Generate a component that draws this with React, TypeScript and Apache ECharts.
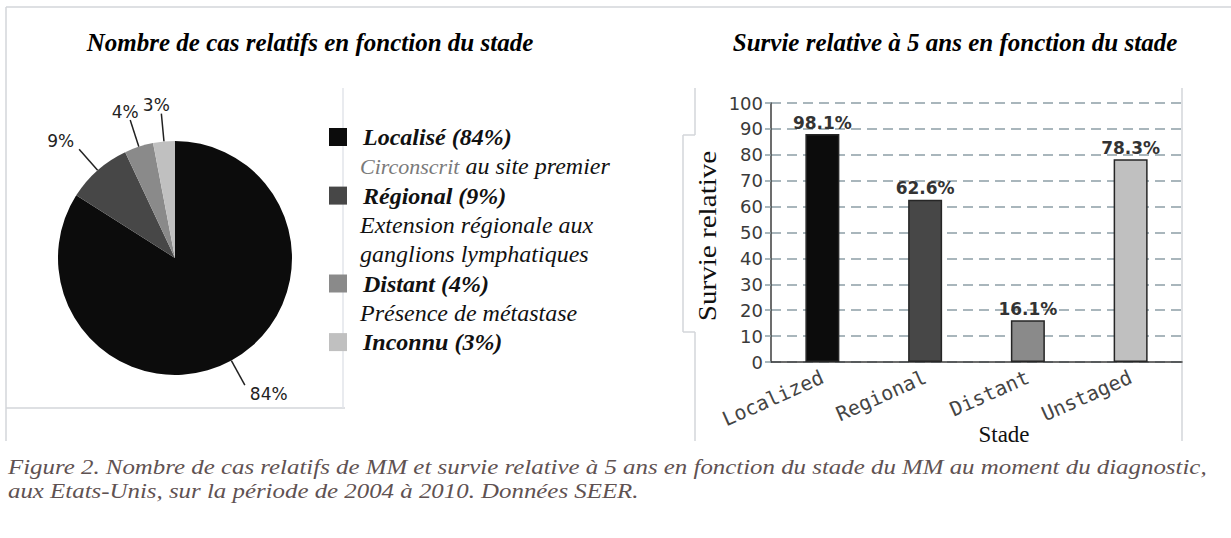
import React, { useEffect, useRef } from 'react';
import * as echarts from 'echarts';

// ---------- data ----------
const pieCategories = ['Localisé', 'Régional', 'Distant', 'Inconnu'];
const pieValues = [84, 9, 4, 3];
const pieDescriptions: string[][] = [
  ['{g|Circonscrit} {n|au site premier}'],
  ['Extension régionale aux', 'ganglions lymphatiques'],
  ['Présence de métastase'],
  [],
];
const barCategories = ['Localized', 'Regional', 'Distant', 'Unstaged'];
const barValues = [88, 62.6, 16.1, 78.3];
const barLabels = ['98.1%', '62.6%', '16.1%', '78.3%'];
const leftTitle = 'Nombre de cas relatifs en fonction du stade';
const rightTitle = 'Survie relative à 5 ans en fonction du stade';
const yAxisTitle = 'Survie relative';
const xAxisTitle = 'Stade';
const captionLines = [
  'Figure 2. Nombre de cas relatifs de MM et survie relative à 5 ans en fonction du stade du MM au moment du diagnostic,',
  'aux Etats-Unis, sur la période de 2004 à 2010. Données SEER.',
];

// ---------- styles ----------
const grays = ['#0c0c0c', '#474747', '#8a8a8a', '#c0c0c0'];
const serif = '"Liberation Serif", "Times New Roman", serif';
const frameColor = '#d3d6da';

// per-slice label alignment tweaks (style only)
const pieLabelTweaks: any[] = [
  { align: 'left', verticalAlign: 'top' },
  { align: 'right', verticalAlign: 'bottom' },
  { align: 'center', verticalAlign: 'bottom' },
  { align: 'center', verticalAlign: 'bottom' },
];

function buildLegend(): any[] {
  const els: any[] = [];
  const y0 = 137;
  const step = 29.3;
  let line = 0;
  pieCategories.forEach((name, i) => {
    const y = y0 + line * step;
    els.push({
      type: 'rect',
      shape: { x: 329, y: y - 9, width: 18, height: 18 },
      style: { fill: grays[i] },
    });
    els.push({
      type: 'text',
      x: 363,
      y,
      style: {
        text: `${name} (${pieValues[i]}%)`,
        font: `italic bold 24px ${serif}`,
        fill: '#111',
        verticalAlign: 'middle',
      },
    });
    line++;
    pieDescriptions[i].forEach((d) => {
      const yy = y0 + line * step;
      els.push({
        type: 'text',
        x: 360,
        y: yy,
        style: {
          text: d,
          font: `italic 24px ${serif}`,
          fill: '#111',
          verticalAlign: 'middle',
          rich: {
            g: { font: `italic 22px ${serif}`, fill: '#7a7a7a' },
            n: { font: `italic 24px ${serif}`, fill: '#111' },
          },
        },
      });
      line++;
    });
  });
  return els;
}

function frameLine(x1: number, y1: number, x2: number, y2: number, color = frameColor) {
  return {
    type: 'line',
    shape: { x1, y1, x2, y2 },
    style: { stroke: color, lineWidth: 1.5 },
  };
}

function buildOption(): any {
  return {
    animation: false,
    backgroundColor: '#ffffff',
    grid: { left: 771, top: 103, width: 411, height: 259, containLabel: false },
    xAxis: {
      type: 'category',
      data: barCategories,
      axisLine: { show: true, lineStyle: { color: '#3c3c3c', width: 1.5 } },
      axisTick: { show: false },
      axisLabel: {
        rotate: 24,
        margin: 14,
        fontFamily: '"DejaVu Sans Mono", monospace',
        fontSize: 20,
        color: '#444',
        interval: 0,
      },
    },
    yAxis: {
      type: 'value',
      min: 0,
      max: 100,
      interval: 10,
      axisLine: { show: true, lineStyle: { color: '#3c3c3c', width: 1.5 } },
      axisTick: { show: true, length: 6, lineStyle: { color: '#8d9fa6', width: 1.5 } },
      axisLabel: {
        fontFamily: '"DejaVu Sans", sans-serif',
        fontSize: 18,
        color: '#3a3a3a',
        margin: 8,
      },
      splitLine: {
        show: true,
        lineStyle: { color: '#8d9fa6', width: 1.5, type: [10, 6] },
      },
    },
    series: [
      {
        type: 'bar',
        data: barValues.map((v, i) => ({ value: v, itemStyle: { color: grays[i] } })),
        barWidth: 34,
        itemStyle: { borderColor: '#262626', borderWidth: 1.5 },
        label: {
          show: true,
          position: 'top',
          distance: 3,
          formatter: (p: any) => barLabels[p.dataIndex],
          fontFamily: '"DejaVu Sans", sans-serif',
          fontWeight: 'bold',
          fontSize: 17,
          color: '#333',
        },
      },
      {
        type: 'pie',
        center: [175, 258],
        radius: 117,
        startAngle: 90,
        clockwise: true,
        avoidLabelOverlap: false,
        data: pieCategories.map((n, i) => ({
          name: n,
          value: pieValues[i],
          itemStyle: { color: grays[i] },
        })),
        itemStyle: { borderWidth: 0 },
        label: {
          show: true,
          position: 'outside',
          formatter: '{c}%',
          fontFamily: '"DejaVu Sans", sans-serif',
          fontSize: 17,
          color: '#222',
        },
        labelLine: {
          show: true,
          length: 28,
          length2: 0,
          lineStyle: { color: '#222', width: 1.5 },
        },
        labelLayout: (params: any) => pieLabelTweaks[params.dataIndex],
        emphasis: { disabled: true },
      },
    ],
    graphic: [
      // frame
      frameLine(6, 7, 1231, 7),
      frameLine(6, 7, 6, 441),
      frameLine(6, 408, 345, 408),
      frameLine(343, 88, 343, 408, '#e2e5ea'),
      frameLine(695, 88, 695, 135),
      frameLine(695, 135, 683, 135),
      frameLine(683, 135, 683, 332),
      frameLine(683, 332, 695, 332),
      frameLine(695, 332, 695, 441),
      frameLine(1182, 88, 1182, 441),
      // titles
      {
        type: 'text',
        x: 310,
        y: 42,
        style: {
          text: leftTitle,
          font: `italic bold 25px ${serif}`,
          fill: '#000',
          align: 'center',
          verticalAlign: 'middle',
        },
      },
      {
        type: 'text',
        x: 955,
        y: 42,
        style: {
          text: rightTitle,
          font: `italic bold 25px ${serif}`,
          fill: '#000',
          align: 'center',
          verticalAlign: 'middle',
        },
      },
      // axis titles
      {
        type: 'text',
        x: 707,
        y: 236,
        rotation: Math.PI / 2,
        scaleX: 1.12,
        style: {
          text: yAxisTitle,
          font: `26px ${serif}`,
          fill: '#111',
          align: 'center',
          verticalAlign: 'middle',
        },
      },
      {
        type: 'text',
        x: 1004,
        y: 434,
        style: {
          text: xAxisTitle,
          font: `23px ${serif}`,
          fill: '#111',
          align: 'center',
          verticalAlign: 'middle',
        },
      },
      // caption
      ...captionLines.map((t, i) => ({
        type: 'text',
        x: 8,
        y: 467 + i * 24,
        scaleX: 1.131,
        style: {
          text: t,
          font: `italic 22px ${serif}`,
          fill: '#5f5252',
          verticalAlign: 'middle',
        },
      })),
      ...buildLegend(),
    ],
  };
}

export default function App() {
  const ref = useRef<HTMLDivElement>(null);
  useEffect(() => {
    if (!ref.current) return;
    const chart = echarts.init(ref.current, null, { renderer: 'svg' });
    chart.setOption(buildOption());
    return () => chart.dispose();
  }, []);
  return (
    <div
      ref={ref}
      style={{ position: 'absolute', left: 0, top: 0, width: 1231, height: 538, background: '#fff' }}
    />
  );
}
